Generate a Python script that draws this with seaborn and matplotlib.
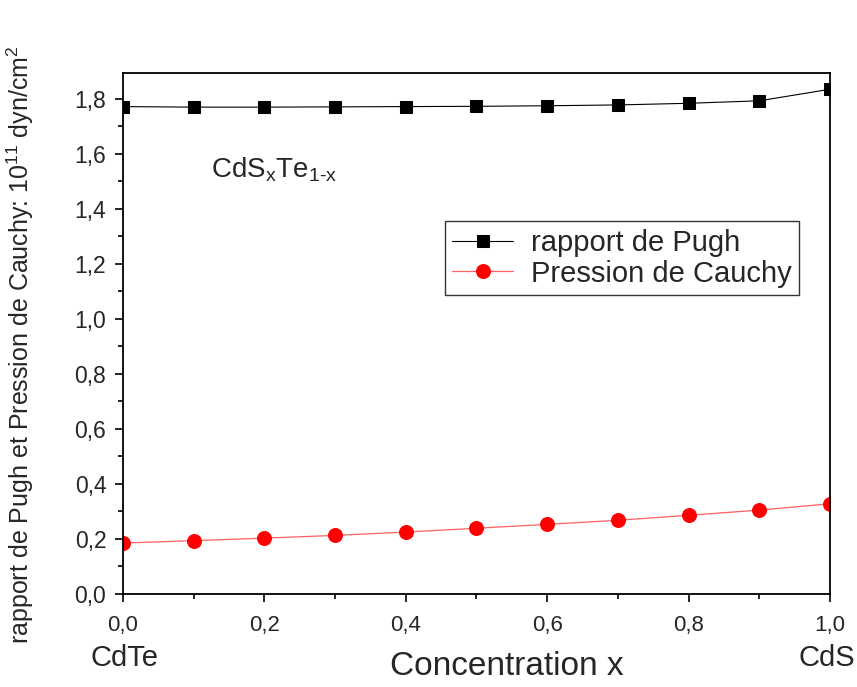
import pandas as pd
import matplotlib.pyplot as plt
import matplotlib.ticker as mticker
import seaborn as sns

# Data
concentration = [0.0, 0.1, 0.2, 0.3, 0.4, 0.5, 0.6, 0.7, 0.8, 0.9, 1.0]
pugh = [1.772, 1.770, 1.770, 1.771, 1.772, 1.773, 1.775, 1.778, 1.784, 1.793, 1.835]
cauchy = [0.185, 0.194, 0.203, 0.213, 0.225, 0.239, 0.253, 0.268, 0.286, 0.305, 0.328]

df = pd.DataFrame({'x': concentration, 'pugh': pugh, 'cauchy': cauchy})

sns.set_style('ticks')
plt.rcParams['font.family'] = ['Liberation Sans', 'DejaVu Sans']
plt.rcParams['mathtext.fontset'] = 'custom'
plt.rcParams['mathtext.rm'] = 'Liberation Sans'
plt.rcParams['mathtext.it'] = 'Liberation Sans'

fig = plt.figure(figsize=(8.57, 6.87), dpi=100)
ax = fig.add_axes([0.1435, 0.1354, 0.825, 0.7583])

sns.lineplot(x='x', y='pugh', data=df, ax=ax, color='black', lw=0.8,
             marker='s', markersize=9, markeredgecolor='black',
             label='rapport de Pugh')
sns.lineplot(x='x', y='cauchy', data=df, ax=ax, color='#ff6060', lw=0.9,
             marker='o', markersize=10, markerfacecolor='red', markeredgecolor='red',
             label='Pression de Cauchy')

ax.set_xlim(0, 1.0)
ax.set_ylim(0, 1.894)
ax.xaxis.set_major_locator(mticker.MultipleLocator(0.2))
ax.xaxis.set_minor_locator(mticker.MultipleLocator(0.1))
ax.yaxis.set_major_locator(mticker.MultipleLocator(0.2))
ax.yaxis.set_minor_locator(mticker.MultipleLocator(0.1))
comma = mticker.FuncFormatter(lambda v, p: f'{v:.1f}'.replace('.', ','))
ax.xaxis.set_major_formatter(comma)
ax.yaxis.set_major_formatter(comma)
ax.tick_params(which='major', direction='out', length=6, width=1.2, color='black')
ax.tick_params(which='minor', direction='out', length=3.5, width=1.2, color='black')
ax.tick_params(axis='y', labelsize=16.5, pad=6)
ax.tick_params(axis='x', labelsize=16, pad=9)
for s in ax.spines.values():
    s.set_linewidth(1.3)
    s.set_color('black')

ax.set_xlabel('Concentration x', fontsize=24)
ax.xaxis.set_label_coords(0.543, -0.11)
ax.set_ylabel(r'rapport de Pugh et Pression de Cauchy: 10$^{11}$ dyn/cm$^{2}$', fontsize=18)
ax.yaxis.set_label_coords(-0.123, 0.478)

fig.text(0.145, 0.022, 'CdTe', fontsize=21, ha='center', va='bottom')
fig.text(0.965, 0.022, 'CdS', fontsize=21, ha='center', va='bottom')
ax.text(0.125, 0.80, r'CdS$_{\mathrm{x}}$Te$_{\mathrm{1\text{-}x}}$', transform=ax.transAxes, fontsize=20)

leg = ax.legend(loc='upper left', bbox_to_anchor=(0.455, 0.715), fontsize=21,
                frameon=True, fancybox=False, edgecolor='black', handlelength=2.1,
                borderpad=0.25, labelspacing=0.1, handletextpad=0.6, borderaxespad=0)
leg.get_frame().set_linewidth(1.0)

plt.savefig('out.png', dpi=100)
